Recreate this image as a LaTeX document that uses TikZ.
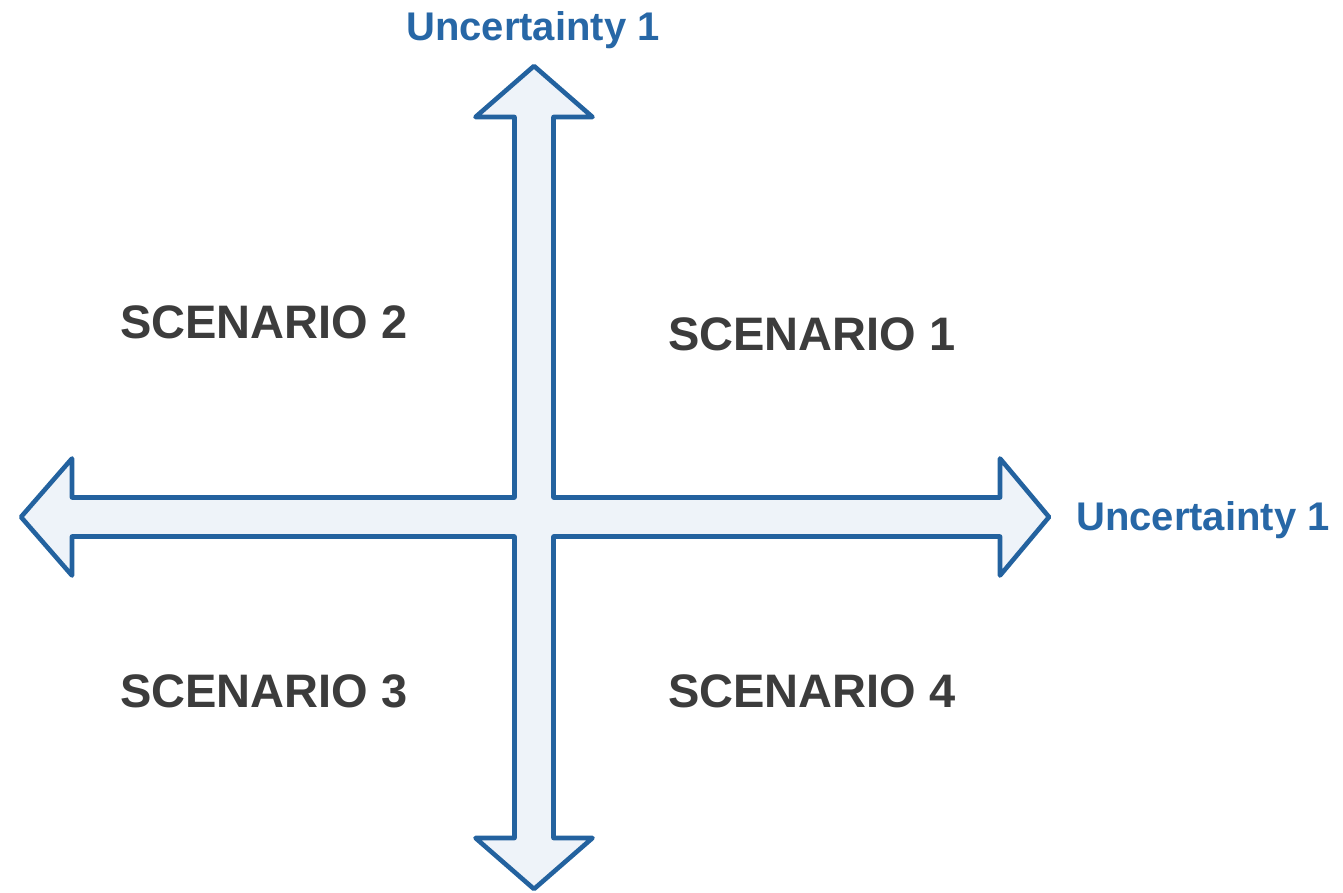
\documentclass[tikz,border=0pt]{standalone}
\usepackage{fontspec}
\setmainfont{Liberation Sans}
\definecolor{axisline}{HTML}{23629F}
\definecolor{axisfill}{HTML}{EEF3F9}
\definecolor{axistext}{HTML}{2767A6}
\definecolor{scentext}{HTML}{3C3C3C}
\tikzset{
  axisshape/.style={draw=axisline, fill=axisfill, line width=4.6pt, line join=round},
  scenlabel/.style={inner sep=0pt, anchor=base west, text=scentext,
    font=\bfseries\fontsize{47}{56}\selectfont},
  axislabel/.style={inner sep=0pt, text=axistext,
    font=\bfseries\fontsize{40}{48}\selectfont},
}
\begin{document}
\begin{tikzpicture}[x=1pt, y=-1pt]
\useasboundingbox (0,0) rectangle (1343,893);
% centre of the cross, shaft half-width, head half-width
\def\cx{534}\def\cy{517}\def\sw{19.5}\def\hw{58.5}
% the double-headed cross of the two axes, one outline
\draw[axisshape]
  (\cx,66) -- (\cx+\hw,117) -- (\cx+\sw,117) -- (\cx+\sw,\cy-\sw)
  -- (1000,\cy-\sw) -- (1000,\cy-\hw) -- (1049,\cy) -- (1000,\cy+\hw) -- (1000,\cy+\sw)
  -- (\cx+\sw,\cy+\sw) -- (\cx+\sw,838) -- (\cx+\hw,838) -- (\cx,889)
  -- (\cx-\hw,838) -- (\cx-\sw,838) -- (\cx-\sw,\cy+\sw)
  -- (72,\cy+\sw) -- (72,\cy+\hw) -- (21,\cy) -- (72,\cy-\hw) -- (72,\cy-\sw)
  -- (\cx-\sw,\cy-\sw) -- (\cx-\sw,117) -- (\cx-\hw,117) -- cycle;
% axis names
\node[axislabel, anchor=base] (utop) at (533,41) {Uncertainty 1};
\node[axislabel, anchor=base west] (uright) at (1076,530) {Uncertainty 1};
% quadrant names
\node[scenlabel] (s2) at (120,338) {SCENARIO 2};
\node[scenlabel] (s1) at (668,350) {SCENARIO 1};
\node[scenlabel] (s3) at (120,707) {SCENARIO 3};
\node[scenlabel] (s4) at (668,707) {SCENARIO 4};
\end{tikzpicture}
\end{document}
